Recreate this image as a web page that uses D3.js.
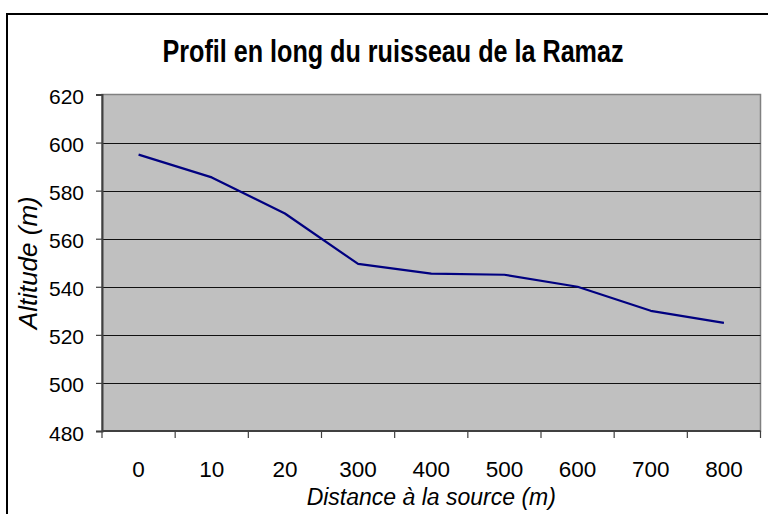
<!DOCTYPE html>
<html>
<head>
<meta charset="utf-8">
<script src="https://cdn.jsdelivr.net/npm/d3@7"></script>
<style>
	body { margin: 0; background: #fff; }
	svg { display: block; font-family: "Liberation Sans", Arial, sans-serif; }
</style>
</head>
<body>
<script>
const distances = ['0', '10', '20', '300', '400', '500', '600', '700', '800'];
const altitudes = [595, 585.5, 570.5, 549.5, 545.5, 545, 540, 530, 525];
const yTicks = [480, 500, 520, 540, 560, 580, 600, 620];

const W = 768, H = 514;
const plot = { left: 102, top: 94.5, right: 760.5, bottom: 431 };

const svg = d3.select('body')
	.append('svg')
	.attr('width', W)
	.attr('height', H);

// chart border (runs off right/bottom like the screenshot)
svg.append('rect')
	.attr('x', 7)
	.attr('y', 14)
	.attr('width', 800)
	.attr('height', 560)
	.attr('fill', '#fff')
	.attr('stroke', '#000')
	.attr('stroke-width', 2);

const x = d3.scaleBand()
	.domain(distances)
	.range([plot.left, plot.right]);

const y = d3.scaleLinear()
	.domain([480, 620])
	.range([plot.bottom, plot.top]);

// plot area
svg.append('rect')
	.attr('x', plot.left)
	.attr('y', plot.top)
	.attr('width', plot.right - plot.left)
	.attr('height', plot.bottom - plot.top)
	.attr('fill', '#c0c0c0')
	.attr('stroke', '#808080')
	.attr('stroke-width', 1.5);

// gridlines
svg.append('g')
	.selectAll('line')
	.data(yTicks.slice(1, -1))
	.enter()
	.append('line')
	.attr('x1', plot.left)
	.attr('x2', plot.right)
	.attr('y1', d => Math.round(y(d)) + 0.5)
	.attr('y2', d => Math.round(y(d)) + 0.5)
	.attr('stroke', '#111')
	.attr('stroke-width', 1.2);

// y axis
const yAxis = svg.append('g')
	.attr('transform', `translate(${plot.left},0)`)
	.call(d3.axisLeft(y).tickValues(yTicks).tickSize(6).tickPadding(12).tickFormat(d3.format('d')));
yAxis.select('.domain').attr('stroke', '#404040').attr('stroke-width', 2);
yAxis.selectAll('.tick line').attr('stroke', '#404040').attr('stroke-width', 1.2);
yAxis.selectAll('.tick text')
	.attr('font-size', 21)
	.attr('fill', '#000')
	.attr('dy', '0.43em')
	.style('font-family', '"Liberation Sans", Arial, sans-serif');

// x axis: ticks between categories
const boundaries = distances.map(d => x(d)).concat([plot.right]);
const xAxis = svg.append('g')
	.attr('transform', `translate(0,${plot.bottom})`);
xAxis.append('line')
	.attr('x1', plot.left)
	.attr('x2', plot.right)
	.attr('stroke', '#404040')
	.attr('stroke-width', 2);
xAxis.selectAll('.tk')
	.data(boundaries)
	.enter()
	.append('line')
	.attr('class', 'tk')
	.attr('x1', d => d)
	.attr('x2', d => d)
	.attr('y1', 0)
	.attr('y2', 7)
	.attr('stroke', '#404040')
	.attr('stroke-width', 1.2);
xAxis.selectAll('text')
	.data(distances)
	.enter()
	.append('text')
	.attr('x', d => x(d) + x.bandwidth() / 2)
	.attr('y', 45.5)
	.attr('text-anchor', 'middle')
	.attr('font-size', 22.5)
	.text(d => d);

// the profile line
const line = d3.line()
	.x((d, i) => x(distances[i]) + x.bandwidth() / 2)
	.y(d => y(d));

svg.append('path')
	.datum(altitudes)
	.attr('d', line)
	.attr('fill', 'none')
	.attr('stroke', '#000080')
	.attr('stroke-width', 2.2)
	.attr('stroke-linejoin', 'round');

// title (narrow / tall like the original)
svg.append('text')
	.attr('transform', 'translate(393,62.3) scale(0.825,1)')
	.attr('text-anchor', 'middle')
	.attr('font-size', 30.5)
	.attr('font-weight', 'bold')
	.text('Profil en long du ruisseau de la Ramaz');

// axis titles
svg.append('text')
	.attr('transform', `translate(37,${(plot.top + plot.bottom) / 2}) rotate(-90)`)
	.attr('text-anchor', 'middle')
	.attr('font-size', 26)
	.attr('font-style', 'italic')
	.text('Altitude (m)');

svg.append('text')
	.attr('x', (plot.left + plot.right) / 2)
	.attr('y', 505)
	.attr('text-anchor', 'middle')
	.attr('font-size', 23)
	.attr('font-style', 'italic')
	.text('Distance à la source (m)');
</script>
</body>
</html>
